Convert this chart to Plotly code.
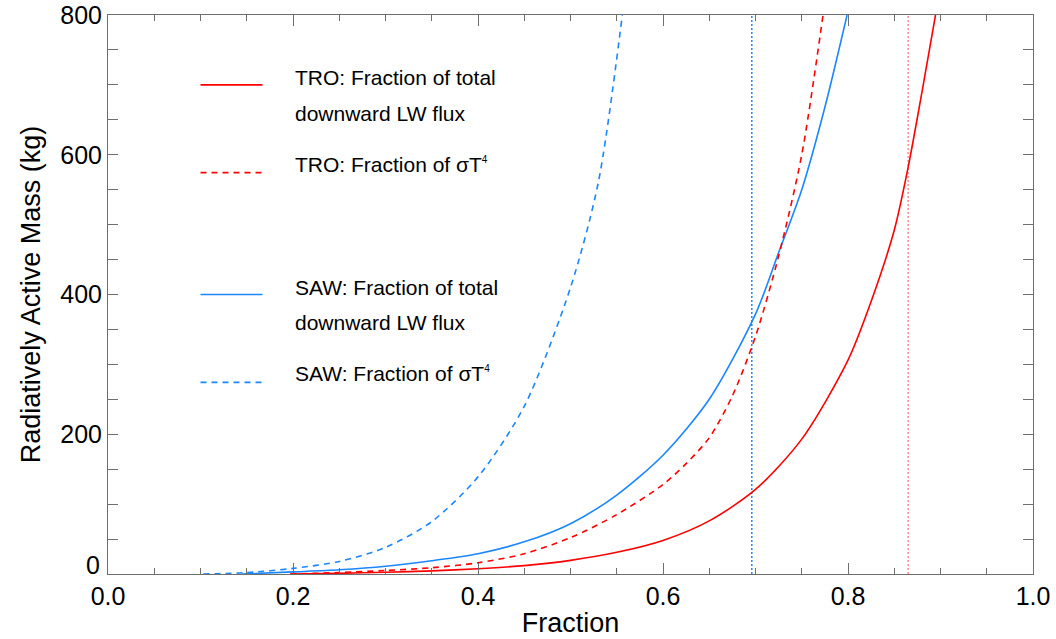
import plotly.graph_objects as go

# ---- data ----
tro_total_x = [0.197, 0.25, 0.30, 0.35, 0.40, 0.45, 0.50, 0.55, 0.60, 0.65, 0.70, 0.75, 0.80, 0.825, 0.85, 0.865, 0.88, 0.8946]
tro_total_y = [0, 1, 2.5, 4.5, 7.5, 12, 19.5, 31, 48, 76, 121, 193, 306, 390, 492, 582, 690, 800]

tro_sigma_x = [0.197, 0.25, 0.30, 0.35, 0.40, 0.45, 0.50, 0.55, 0.60, 0.625, 0.65, 0.675, 0.70, 0.725, 0.75, 0.773]
tro_sigma_y = [0, 2, 5, 9, 16, 29, 52, 85, 128, 158, 195, 255, 340, 455, 600, 800]

saw_total_x = [0.145, 0.20, 0.25, 0.30, 0.35, 0.40, 0.45, 0.50, 0.55, 0.60, 0.65, 0.70, 0.725, 0.75, 0.775, 0.799]
saw_total_y = [0, 3, 6, 11, 19, 29, 46, 72, 113, 170, 250, 372, 460, 550, 668, 800]

saw_sigma_x = [0.103, 0.15, 0.20, 0.25, 0.30, 0.35, 0.40, 0.45, 0.50, 0.53, 0.556]
saw_sigma_y = [0, 2, 8, 18, 38, 75, 139, 240, 410, 560, 800]

saw_marker_x = 0.696
tro_marker_x = 0.865

y_tickvals = [0, 200, 400, 600, 800]
y_ticktext = ["", "200", "400", "600", "800"]
y_zero_label = "0"

SUP4 = "<sup><span style='font-size:10px'>4</span></sup>"
legend_labels = [
    ["TRO: Fraction of total", "downward LW flux"],
    ["TRO: Fraction of σT" + SUP4],
    ["SAW: Fraction of total", "downward LW flux"],
    ["SAW: Fraction of σT" + SUP4],
]

RED = "#FF0000"
BLUE = "#1A86FF"
FONT = "Liberation Sans, Arial, Helvetica, sans-serif"
DASH = "6px,5px"

fig = go.Figure()

fig.add_trace(go.Scatter(x=[saw_marker_x, saw_marker_x], y=[0, 800], mode="lines",
                         line=dict(color=BLUE, width=1.5, dash="2px,2px"), showlegend=False))
fig.add_trace(go.Scatter(x=[tro_marker_x, tro_marker_x], y=[0, 800], mode="lines",
                         line=dict(color="#FF7B7B", width=1.3, dash="2px,2px"), showlegend=False))

for xs, ys, col, d in [(saw_sigma_x, saw_sigma_y, BLUE, DASH), (saw_total_x, saw_total_y, BLUE, "solid"),
                       (tro_sigma_x, tro_sigma_y, RED, DASH), (tro_total_x, tro_total_y, RED, "solid")]:
    fig.add_trace(go.Scatter(x=xs, y=ys, mode="lines", line_shape="spline",
                             line=dict(color=col, width=1.6, dash=d, smoothing=0.8), showlegend=False))

# ---- manual legend (paper coordinates) ----
H = 560.0
def py(p):
    return (574 - p) / H

leg_lines = [(84, RED, "solid"), (172, RED, DASH), (294, BLUE, "solid"), (382, BLUE, DASH)]
for yy, col, d in leg_lines:
    fig.add_shape(type="line", xref="paper", yref="paper", x0=0.1, x1=0.167, y0=py(yy), y1=py(yy),
                  line=dict(color=col, width=1.7, dash=d))

text_rows = [(77, legend_labels[0][0]), (113, legend_labels[0][1]), (164, legend_labels[1][0]),
             (287, legend_labels[2][0]), (322, legend_labels[2][1]), (373, legend_labels[3][0])]
for yy, t in text_rows:
    fig.add_annotation(xref="paper", yref="paper", x=0.2, y=py(yy), text=t, showarrow=False,
                       xanchor="left", yanchor="middle", font=dict(family=FONT, size=21, color="black"))

# raised zero label on the y axis (as in the reference)
fig.add_annotation(xref="paper", yref="y", x=0, y=0, text=y_zero_label, showarrow=False,
                   xanchor="right", yanchor="middle", xshift=-6, yshift=9,
                   font=dict(family=FONT, size=25, color="black"))

axis_common = dict(showline=True, linecolor="#6e6e6e", linewidth=1, mirror="allticks",
                   ticks="inside", tickcolor="#6e6e6e", tickwidth=1, showgrid=False, zeroline=False,
                   automargin=False, tickfont=dict(family=FONT, size=25, color="black"))

fig.update_xaxes(range=[0, 1], dtick=0.2, tick0=0, tickformat=".1f", ticklen=11,
                 minor=dict(dtick=0.05, ticks="inside", ticklen=6, tickcolor="#6e6e6e", showgrid=False),
                 title=dict(text="Fraction", font=dict(family=FONT, size=27, color="black"), standoff=4),
                 **axis_common)
fig.update_yaxes(range=[0, 800], tickmode="array", tickvals=y_tickvals, ticktext=y_ticktext, ticklen=10,
                 minor=dict(dtick=50, tick0=0, ticks="inside", ticklen=10, tickcolor="#6e6e6e", showgrid=False),
                 title=dict(text="Radiatively Active Mass (kg)", font=dict(family=FONT, size=27, color="black"), standoff=11),
                 **axis_common)

fig.update_layout(width=1056, height=639, margin=dict(l=107.5, r=23, t=14.5, b=65),
                  plot_bgcolor="white", paper_bgcolor="white", showlegend=False)

fig.write_html("out.html")
